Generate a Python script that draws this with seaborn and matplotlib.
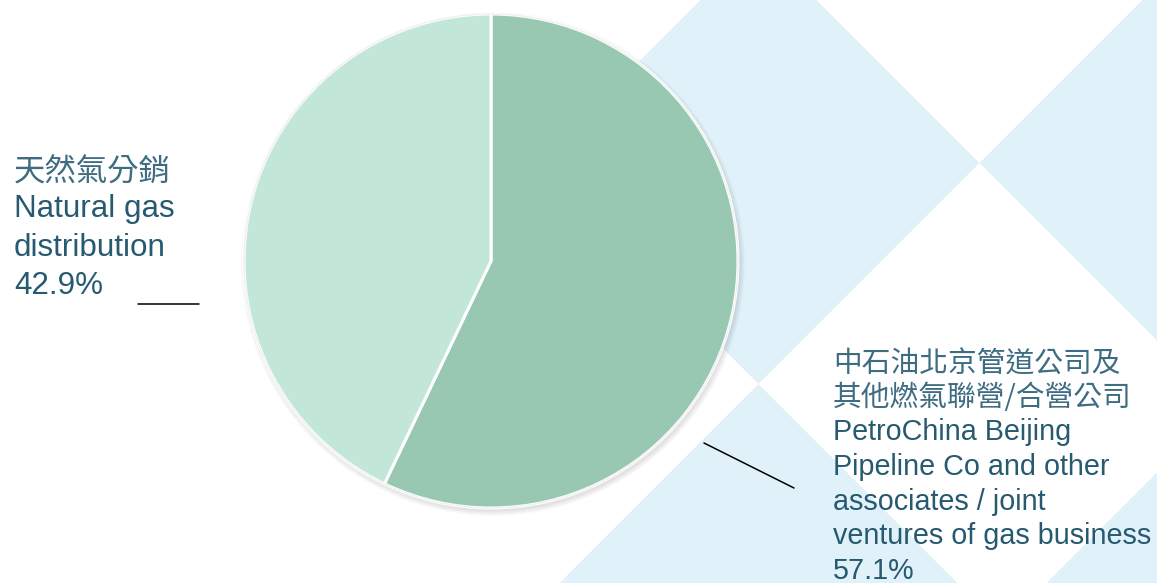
# Pie chart: share of gas business (distribution vs associates / JVs)

import numpy as np
import matplotlib
matplotlib.use("Agg")
import matplotlib.pyplot as plt
import seaborn as sns
from matplotlib.patches import Circle

# -----------------------------
# Data
# -----------------------------
segments_zh = ["中石油北京管道公司及\n其他燃氣聯營/合營公司", "天然氣分銷"]
segments_en = ["PetroChina Beijing\nPipeline Co and other\nassociates / joint\nventures of gas business",
               "Natural gas\ndistribution"]
shares = [57.1, 42.9]
slice_colors = ["#98C7B2", "#C2E7D8"]

text_color = "#265A70"
zh_color = "#3E6D82"
bg_blue = np.array([225, 241, 250]) / 255

sns.set_style("white")
plt.rcParams["font.family"] = ["Liberation Sans", "DejaVu Sans"]

W, H = 1157, 583
fig = plt.figure(figsize=(W / 100, H / 100), dpi=100)

# -----------------------------
# Background: diamond lattice, fading out to the left
# -----------------------------
bg = fig.add_axes([0, 0, 1, 1])
yy, xx = np.mgrid[0:H, 0:W] + 0.5
u_edges = [-183, 259, 701, 1143, 1630, 2100]
v_edges = [-951, -509, -67, 375, 817, 1259]
i = np.digitize(xx + yy, u_edges)
j = np.digitize(xx - yy, v_edges)
blue = ((i + j) % 2 == 1).astype(float)
fade = np.clip((xx - 520) / 50, 0, 1)
a = (blue * fade)[..., None]
img = 1 - a * (1 - bg_blue)
bg.imshow(img, extent=(0, W, H, 0), interpolation="bilinear", aspect="auto")
bg.set_xlim(0, W)
bg.set_ylim(H, 0)
bg.axis("off")

# -----------------------------
# Pie
# -----------------------------
cx, cy, r = 491, 261, 247
pax = fig.add_axes([(cx - r) / W, (H - cy - r) / H, 2 * r / W, 2 * r / H])
pax.patch.set_alpha(0)

# soft shadow, mostly bottom-right
for k in range(6):
    pax.add_patch(Circle((0.008, -0.012), 1.0 + k * 0.004, facecolor="#000000",
                         alpha=0.018, edgecolor="none", zorder=0, clip_on=False))

pax.pie(shares, colors=slice_colors, startangle=90, counterclock=False,
        wedgeprops=dict(edgecolor="white", linewidth=2.2))
pax.add_patch(Circle((0, 0), 1.0, facecolor="none", edgecolor="#F0F0F0",
                     linewidth=1.0, zorder=3, clip_on=False))
pax.set_xlim(-1, 1)
pax.set_ylim(-1, 1)
pax.set_aspect("equal")
pax.axis("off")

# -----------------------------
# Labels
# -----------------------------
zh_font = ["Noto Sans CJK TC", "DejaVu Sans"]

# left: natural gas distribution
fs_l = 22.6
bg.text(14, 181, segments_zh[1], fontsize=fs_l, family=zh_font, weight="light",
        color=zh_color, va="baseline", ha="left")
for n, line in enumerate(segments_en[1].split("\n") + [f"{shares[1]:.1f}%"]):
    bg.text(14, 217 + n * 38.5, line, fontsize=fs_l, color=text_color,
            va="baseline", ha="left")
bg.plot([138, 199], [304, 304], color="black", lw=1.1)

# right: associates / JVs
fs_r = 20.7
for n, line in enumerate(segments_zh[0].split("\n")):
    bg.text(833, 373 + n * 33, line, fontsize=fs_r, family=zh_font, weight="light",
            color=zh_color, va="baseline", ha="left")
for n, line in enumerate(segments_en[0].split("\n") + [f"{shares[0]:.1f}%"]):
    bg.text(833, 440 + n * 34.8, line, fontsize=fs_r, color=text_color,
            va="baseline", ha="left")
bg.plot([704, 794], [443, 488], color="black", lw=1.1)

fig.savefig("out.png", dpi=100)
